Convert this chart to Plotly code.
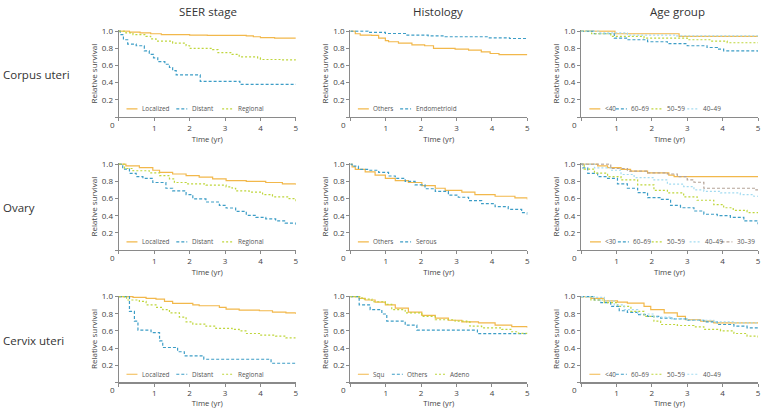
import plotly.graph_objects as go

# ---------------- data ----------------
col_titles = ["SEER stage", "Histology", "Age group"]
row_titles = ["Corpus uteri", "Ovary", "Cervix uteri"]
x_ticks = [0, 1, 2, 3, 4, 5]
y_ticks = [0, 0.2, 0.4, 0.6, 0.8, 1.0]
y_tick_text = ["", "0.2", "0.4", "0.6", "0.8", "1.0"]

# Corpus uteri - SEER stage
cs_loc_t = [0, 0.3, 0.6, 0.9, 1.2, 2.0, 2.5, 3.6, 3.8, 4.0, 4.4, 5]
cs_loc_s = [1.0, 0.99, 0.98, 0.97, 0.96, 0.955, 0.95, 0.945, 0.935, 0.925, 0.92, 0.92]
cs_dis_t = [0, 0.04, 0.13, 0.25, 0.49, 0.72, 0.86, 0.98, 1.1, 1.3, 1.43, 1.52, 1.62, 2.3, 3.42, 5]
cs_dis_s = [1.0, 0.96, 0.9, 0.85, 0.83, 0.77, 0.73, 0.69, 0.645, 0.615, 0.577, 0.54, 0.49, 0.415, 0.38, 0.38]
cs_reg_t = [0, 0.2, 0.4, 0.77, 0.9, 1.05, 1.52, 1.9, 2.0, 2.65, 2.8, 3.2, 3.4, 3.92, 4.0, 4.6, 5]
cs_reg_s = [1.0, 0.98, 0.96, 0.94, 0.91, 0.885, 0.86, 0.83, 0.8, 0.785, 0.75, 0.73, 0.70, 0.69, 0.67, 0.665, 0.66]

# Corpus uteri - Histology
ch_oth_t = [0, 0.14, 0.28, 0.6, 0.8, 0.99, 1.08, 1.36, 1.74, 2.1, 2.35, 2.96, 3.34, 3.7, 3.95, 4.2, 5]
ch_oth_s = [1.0, 0.97, 0.955, 0.95, 0.92, 0.89, 0.877, 0.86, 0.84, 0.83, 0.80, 0.79, 0.78, 0.76, 0.74, 0.727, 0.727]
ch_end_t = [0, 0.5, 0.99, 1.6, 2.2, 2.68, 3.9, 4.5, 5]
ch_end_s = [1.0, 0.985, 0.973, 0.954, 0.945, 0.935, 0.923, 0.915, 0.908]

# Corpus uteri - Age group
ca_40_t = [0, 0.96, 2.77, 5]
ca_40_s = [1.0, 0.97, 0.94, 0.94]
ca_6069_t = [0, 0.375, 0.94, 1.31, 1.88, 2.44, 3.0, 3.56, 3.85, 4.03, 5]
ca_6069_s = [1.0, 0.97, 0.92, 0.90, 0.877, 0.854, 0.83, 0.81, 0.79, 0.77, 0.76]
ca_5059_t = [0, 0.3, 0.84, 1.78, 3.0, 3.66, 4.13, 5]
ca_5059_s = [1.0, 0.97, 0.94, 0.92, 0.90, 0.885, 0.865, 0.865]
ca_4049_t = [0, 0.5, 1.31, 2.7, 5]
ca_4049_s = [1.0, 0.98, 0.955, 0.945, 0.94]

# Ovary - SEER stage
os_loc_t = [0, 0.2, 0.58, 0.96, 1.15, 1.52, 1.9, 2.27, 2.65, 3.03, 3.6, 4.15, 4.62, 5]
os_loc_s = [1.0, 0.98, 0.96, 0.93, 0.905, 0.886, 0.867, 0.85, 0.83, 0.81, 0.80, 0.787, 0.77, 0.76]
os_dis_t = [0, 0.11, 0.3, 0.49, 0.68, 0.96, 1.33, 1.52, 1.9, 2.09, 2.46, 2.84, 3.03, 3.3, 3.6, 3.87, 4.15, 4.43, 4.7, 5]
os_dis_s = [1.0, 0.943, 0.893, 0.855, 0.836, 0.787, 0.72, 0.69, 0.646, 0.596, 0.56, 0.52, 0.49, 0.45, 0.405, 0.38, 0.364, 0.34, 0.314, 0.295]
os_reg_t = [0, 0.16, 0.4, 0.86, 1.15, 1.43, 1.57, 1.9, 2.46, 3.03, 3.2, 3.3, 3.68, 4.06, 4.34, 4.81, 5]
os_reg_s = [1.0, 0.95, 0.924, 0.9, 0.867, 0.83, 0.787, 0.77, 0.756, 0.737, 0.72, 0.69, 0.676, 0.646, 0.62, 0.6, 0.56]

# Ovary - Histology
oh_oth_t = [0, 0.05, 0.14, 0.42, 0.7, 0.99, 1.27, 1.64, 2.02, 2.4, 2.68, 3.15, 3.52, 4.09, 4.65, 5]
oh_oth_s = [1.0, 0.97, 0.94, 0.91, 0.874, 0.836, 0.81, 0.787, 0.75, 0.72, 0.695, 0.676, 0.646, 0.627, 0.608, 0.59]
oh_ser_t = [0, 0.05, 0.23, 0.52, 0.8, 1.08, 1.27, 1.55, 1.83, 2.11, 2.4, 2.77, 3.05, 3.34, 3.71, 4.09, 4.46, 4.84, 5]
oh_ser_s = [1.0, 0.977, 0.94, 0.93, 0.905, 0.863, 0.836, 0.8, 0.76, 0.714, 0.684, 0.64, 0.615, 0.577, 0.54, 0.505, 0.474, 0.436, 0.41]

# Ovary - Age group
oa_30_t = [0, 0.47, 0.75, 1.13, 1.4, 1.88, 2.48, 2.63, 5]
oa_30_s = [1.0, 0.98, 0.96, 0.94, 0.92, 0.9, 0.874, 0.855, 0.855]
oa_6069_t = [0, 0.05, 0.19, 0.47, 0.75, 1.03, 1.31, 1.6, 1.88, 2.25, 2.53, 2.81, 3.19, 3.47, 3.85, 4.22, 4.6, 5]
oa_6069_s = [1.0, 0.958, 0.893, 0.855, 0.836, 0.77, 0.72, 0.67, 0.61, 0.59, 0.52, 0.493, 0.455, 0.417, 0.4, 0.38, 0.34, 0.30]
oa_5059_t = [0, 0.09, 0.38, 0.75, 1.13, 1.6, 2.06, 2.44, 2.9, 3.28, 3.75, 4.03, 4.3, 4.69, 5]
oa_5059_s = [1.0, 0.943, 0.897, 0.855, 0.817, 0.76, 0.695, 0.665, 0.62, 0.58, 0.53, 0.493, 0.463, 0.436, 0.41]
oa_4049_t = [0, 0.38, 0.84, 1.13, 1.5, 2.06, 2.44, 2.9, 3.19, 3.47, 3.94, 4.5, 4.88, 5]
oa_4049_s = [1.0, 0.958, 0.93, 0.88, 0.844, 0.817, 0.768, 0.74, 0.70, 0.684, 0.665, 0.646, 0.627, 0.62]
oa_3039_t = [0, 0.84, 1.31, 1.88, 2.44, 2.72, 3.0, 3.19, 3.47, 4.94, 5]
oa_3039_s = [1.0, 0.95, 0.92, 0.9, 0.886, 0.855, 0.817, 0.79, 0.72, 0.70, 0.70]

# Cervix uteri - SEER stage
xs_loc_t = [0, 0.4, 0.77, 1.05, 1.29, 1.52, 2.09, 2.27, 2.84, 3.03, 3.4, 3.97, 4.34, 4.72, 5]
xs_loc_s = [1.0, 0.99, 0.98, 0.97, 0.943, 0.92, 0.904, 0.893, 0.874, 0.855, 0.843, 0.835, 0.82, 0.81, 0.797]
xs_dis_t = [0, 0.3, 0.44, 0.54, 0.91, 1.15, 1.24, 1.66, 1.85, 2.4, 4.3, 5]
xs_dis_s = [1.0, 0.828, 0.713, 0.61, 0.58, 0.483, 0.407, 0.357, 0.31, 0.27, 0.223, 0.223]
xs_reg_t = [0, 0.22, 0.58, 0.77, 1.05, 1.24, 1.43, 1.71, 1.9, 2.09, 2.46, 2.74, 3.2, 3.4, 3.59, 3.97, 4.43, 4.72, 5]
xs_reg_s = [1.0, 0.96, 0.943, 0.904, 0.874, 0.847, 0.81, 0.76, 0.705, 0.68, 0.655, 0.63, 0.617, 0.6, 0.57, 0.55, 0.54, 0.52, 0.50]

# Cervix uteri - Histology
xh_squ_t = [0, 0.25, 0.42, 0.7, 0.99, 1.27, 1.64, 2.02, 2.4, 2.77, 3.15, 3.62, 4.09, 4.56, 5]
xh_squ_s = [1.0, 0.98, 0.96, 0.935, 0.904, 0.866, 0.82, 0.78, 0.75, 0.724, 0.705, 0.694, 0.667, 0.65, 0.636]
xh_oth_t = [0, 0.25, 0.56, 0.89, 1.03, 1.55, 1.88, 3.59, 5]
xh_oth_s = [1.0, 0.904, 0.847, 0.797, 0.713, 0.667, 0.61, 0.568, 0.565]
xh_ade_t = [0, 0.33, 0.61, 0.99, 1.17, 1.55, 2.02, 2.4, 2.96, 3.29, 3.38, 3.71, 4.28, 4.56, 4.75, 5]
xh_ade_s = [1.0, 0.97, 0.94, 0.91, 0.847, 0.81, 0.77, 0.73, 0.713, 0.705, 0.655, 0.636, 0.617, 0.59, 0.571, 0.57]

# Cervix uteri - Age group
xa_40_t = [0, 0.28, 0.66, 1.03, 1.31, 1.78, 1.97, 2.35, 2.72, 2.95, 3.38, 3.75, 5]
xa_40_s = [1.0, 0.98, 0.95, 0.935, 0.923, 0.885, 0.847, 0.81, 0.77, 0.73, 0.713, 0.694, 0.694]
xa_6069_t = [0, 0.375, 0.56, 0.84, 1.08, 1.31, 1.6, 1.88, 2.25, 2.63, 3.0, 3.47, 3.85, 4.32, 4.69, 5]
xa_6069_s = [1.0, 0.96, 0.93, 0.885, 0.835, 0.816, 0.79, 0.77, 0.75, 0.74, 0.724, 0.705, 0.675, 0.655, 0.636, 0.62]
xa_5059_t = [0, 0.28, 0.66, 1.03, 1.41, 1.78, 2.06, 2.25, 2.72, 3.19, 3.47, 3.94, 4.32, 4.69, 5]
xa_5059_s = [1.0, 0.96, 0.93, 0.885, 0.828, 0.77, 0.713, 0.675, 0.663, 0.648, 0.617, 0.6, 0.57, 0.54, 0.515]
xa_4049_t = [0, 0.375, 0.66, 0.94, 1.22, 1.6, 2.06, 2.53, 3.0, 3.75, 4.32, 5]
xa_4049_s = [1.0, 0.99, 0.95, 0.904, 0.847, 0.797, 0.76, 0.74, 0.724, 0.705, 0.694, 0.69]

# ---------------- styles ----------------
ORANGE = "#F2B84B"
BLUE = "#3C9DC6"
GREEN = "#BFD63C"
LBLUE = "#A3DBF1"
TAUPE = "#B5A498"
STY = {
    "solid": (ORANGE, "solid"),
    "blue": (BLUE, "3px,2px"),
    "green": (GREEN, "2px,2px"),
    "lblue": (LBLUE, "2px,2px"),
    "taupe": (TAUPE, "3px,2px"),
}

panels = [
    # row 0
    [("Localized", cs_loc_t, cs_loc_s, "solid"), ("Distant", cs_dis_t, cs_dis_s, "blue"),
     ("Regional", cs_reg_t, cs_reg_s, "green")],
    [("Others", ch_oth_t, ch_oth_s, "solid"), ("Endometrioid", ch_end_t, ch_end_s, "blue")],
    [("<40", ca_40_t, ca_40_s, "solid"), ("60–69", ca_6069_t, ca_6069_s, "blue"),
     ("50–59", ca_5059_t, ca_5059_s, "green"), ("40–49", ca_4049_t, ca_4049_s, "lblue")],
    # row 1
    [("Localized", os_loc_t, os_loc_s, "solid"), ("Distant", os_dis_t, os_dis_s, "blue"),
     ("Regional", os_reg_t, os_reg_s, "green")],
    [("Others", oh_oth_t, oh_oth_s, "solid"), ("Serous", oh_ser_t, oh_ser_s, "blue")],
    [("<30", oa_30_t, oa_30_s, "solid"), ("60–69", oa_6069_t, oa_6069_s, "blue"),
     ("50–59", oa_5059_t, oa_5059_s, "green"), ("40–49", oa_4049_t, oa_4049_s, "lblue"),
     ("30–39", oa_3039_t, oa_3039_s, "taupe")],
    # row 2
    [("Localized", xs_loc_t, xs_loc_s, "solid"), ("Distant", xs_dis_t, xs_dis_s, "blue"),
     ("Regional", xs_reg_t, xs_reg_s, "green")],
    [("Squ", xh_squ_t, xh_squ_s, "solid"), ("Others", xh_oth_t, xh_oth_s, "blue"),
     ("Adeno", xh_ade_t, xh_ade_s, "green")],
    [("<40", xa_40_t, xa_40_s, "solid"), ("60–69", xa_6069_t, xa_6069_s, "blue"),
     ("50–59", xa_5059_t, xa_5059_s, "green"), ("40–49", xa_4049_t, xa_4049_s, "lblue")],
]

# legend item offsets (px from left edge of plot area)
legend_offsets = [
    [7.7, 57.7, 103.7], [7.6, 50], [8.4, 35, 70.7, 106.7],
    [7.7, 57.7, 103.7], [7.6, 50], [9, 37, 71, 109, 141],
    [7.7, 57.7, 103.7], [7.6, 41.7, 85], [8.4, 35, 70.7, 106.7],
]

W, H = 764, 408
FONT = "Open Sans"
col_x0 = [119.3, 351.7, 583.3]
col_w = 177.7
row_y0 = [113.4, 248.1, 382.1]
unit = 86.9
YMAX = 1.012
title_x = [208.7, 440.0, 680.0]
row_label_y = [70, 205, 340]

fig = go.Figure()
annotations = []
shapes = []

for i in range(9):
    r, c = divmod(i, 3)
    n = i + 1
    xa = "x" if n == 1 else f"x{n}"
    ya = "y" if n == 1 else f"y{n}"
    x0 = col_x0[c]
    x1 = x0 + col_w
    yb = row_y0[r]
    yt = yb - unit * YMAX
    fig.layout[f"xaxis{'' if n == 1 else n}"] = dict(
        domain=[x0 / W, x1 / W], anchor=ya, range=[0, 5],
        tickvals=x_ticks, ticktext=[""] + [str(v) for v in x_ticks[1:]],
        ticks="outside", ticklen=3, tickcolor="#8a8a8a", tickwidth=1,
        showline=True, linecolor="#8a8a8a", linewidth=1.2,
        showgrid=False, zeroline=False,
        tickfont=dict(family=FONT, size=8, color="#444"),
        title=dict(text="Time (yr)", font=dict(family=FONT, size=7.7, color="#444"), standoff=4),
    )
    fig.layout[f"yaxis{'' if n == 1 else n}"] = dict(
        domain=[1 - yb / H, 1 - yt / H], anchor=xa, range=[0, YMAX],
        tickvals=y_ticks, ticktext=y_tick_text,
        ticks="outside", ticklen=3, tickcolor="#8a8a8a", tickwidth=1,
        showline=True, linecolor="#8a8a8a", linewidth=1.2,
        showgrid=False, zeroline=False,
        tickfont=dict(family=FONT, size=8, color="#444"),
        title=dict(text="Relative survival", font=dict(family=FONT, size=8, color="#444"), standoff=3),
    )
    for (name, t, s, sty) in panels[i]:
        col, dash = STY[sty]
        fig.add_trace(go.Scatter(x=t, y=s, mode="lines", line=dict(color=col, dash=dash, width=1.2, shape="hv"),
                                 xaxis=xa, yaxis=ya, showlegend=False, name=name, hoverinfo="skip"))
    # manual legend
    pxu = col_w / 5.0
    for (name, t, s, sty), off in zip(panels[i], legend_offsets[i]):
        col, dash = STY[sty]
        shapes.append(dict(type="line", xref=xa, yref=ya, x0=off / pxu, x1=(off + 11) / pxu,
                           y0=0.095, y1=0.095, line=dict(color=col, width=1.2, dash=dash)))
        annotations.append(dict(text=name, xref=xa, yref=ya, x=(off + 13.5) / pxu, y=0.095,
                                xanchor="left", yanchor="middle", showarrow=False,
                                font=dict(family=FONT, size=6.4, color="#555")))
    # origin "0" label
    annotations.append(dict(text="0", xref="paper", yref="paper", x=(x0 - 6.5) / W, y=1 - (yb + 7.4) / H,
                            xanchor="center", yanchor="middle", showarrow=False,
                            font=dict(family=FONT, size=8, color="#444")))

for c in range(3):
    annotations.append(dict(text=col_titles[c], xref="paper", yref="paper", x=title_x[c] / W, y=1 - 7 / H,
                            xanchor="center", yanchor="middle", showarrow=False,
                            font=dict(family=FONT, size=11.5, color="#333")))
for r in range(3):
    annotations.append(dict(text=row_titles[r], xref="paper", yref="paper", x=1 / W, y=1 - row_label_y[r] / H,
                            xanchor="left", yanchor="middle", showarrow=False,
                            font=dict(family=FONT, size=11.5, color="#333")))

fig.update_layout(width=W, height=H, margin=dict(l=0, r=0, t=0, b=0),
                  paper_bgcolor="white", plot_bgcolor="white",
                  annotations=annotations, shapes=shapes, showlegend=False)

fig.write_html("out.html", config={"displayModeBar": False, "staticPlot": True},
               post_script="document.body.style.margin='0';document.body.style.overflow='hidden';")
